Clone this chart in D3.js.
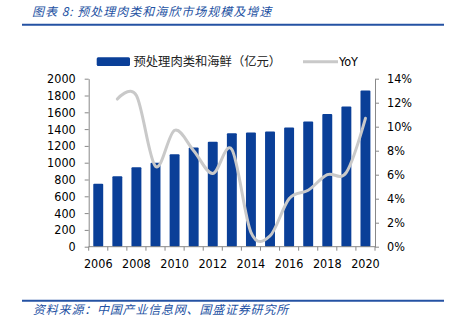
<!DOCTYPE html>
<html><head><meta charset="utf-8">
<script src="https://cdn.jsdelivr.net/npm/d3@7"></script>
<style>
body{margin:0;background:#fff;}
svg{display:block;}
.num{font-family:"DejaVu Sans Condensed","DejaVu Sans",sans-serif;font-size:12.5px;fill:#000;}
</style></head>
<body><svg id="c" width="455" height="325"></svg>
<script>
const years = [2006,2007,2008,2009,2010,2011,2012,2013,2014,2015,2016,2017,2018,2019,2020];
const marketSize = [750,840,945,1000,1100,1180,1250,1350,1360,1370,1420,1490,1580,1670,1860];
const yoyYears = [2007,2008,2009,2010,2011,2012,2013,2014,2015,2016,2017,2018,2019,2020];
const yoy = [12.3,12.6,6.7,9.7,8.0,6.1,8.1,1.2,0.9,4.0,4.7,6.0,6.2,10.7];
const leftTicks = [0,200,400,600,800,1000,1200,1400,1600,1800,2000];
const rightTicks = [0,2,4,6,8,10,12,14];
const xLabels = [2006,2008,2010,2012,2014,2016,2018,2020];
const title = "图表 8:  预处理肉类和海欣市场规模及增速";
const source = "资料来源：中国产业信息网、国盛证券研究所";
const barName = "预处理肉类和海鲜（亿元）";
const lineName = "YoY";

const svg = d3.select("#c");
const L = 88.7, R = 375, T = 78.7, B = 246.7;
const blue = "#0a3f98", navy = "#2452a3";

const x = d3.scaleBand().domain(years).range([L, R]).paddingInner(0.48).paddingOuter(0.24);
const xb = d3.scaleBand().domain(years).range([L, R]);
const yL = d3.scaleLinear().domain([0, 2000]).range([B, T]);
const yR = d3.scaleLinear().domain([0, 14]).range([B, T]);

// header & footer
svg.append("text").attr("x", 32).attr("y", 16).text(title)
  .style("font-family", "'Noto Sans CJK SC',sans-serif").style("font-style", "italic")
  .style("font-size", "12px").style("letter-spacing", "1px").attr("fill", navy);
svg.append("line").attr("x1", 22).attr("x2", 444).attr("y1", 24.7).attr("y2", 24.7)
  .attr("stroke", navy).attr("stroke-width", 2);
svg.append("line").attr("x1", 22).attr("x2", 444).attr("y1", 300.7).attr("y2", 300.7)
  .attr("stroke", navy).attr("stroke-width", 2);
svg.append("text").attr("x", 33).attr("y", 314).text(source)
  .style("font-family", "'Noto Sans CJK SC',sans-serif").style("font-style", "italic")
  .style("font-size", "12px").style("letter-spacing", "0.8px").attr("fill", navy);

// bars
svg.append("g").selectAll("rect").data(years).join("rect")
  .attr("x", d => x(d)).attr("width", x.bandwidth())
  .attr("y", (d, i) => yL(marketSize[i])).attr("height", (d, i) => B - yL(marketSize[i]))
  .attr("fill", blue).attr("rx", 1);

// axes
const gl = svg.append("g").attr("transform", `translate(${L},0)`)
  .call(d3.axisLeft(yL).tickValues(leftTicks).tickSize(4).tickPadding(9).tickSizeOuter(0).tickFormat(d3.format("d")));
const gr = svg.append("g").attr("transform", `translate(${R},0)`)
  .call(d3.axisRight(yR).tickValues(rightTicks).tickSize(4).tickPadding(8).tickSizeOuter(0).tickFormat(d => d + "%"));
[gl, gr].forEach(g => {
  g.selectAll("path,line").attr("stroke", "#888");
  g.selectAll("text").attr("class", "num").attr("fill", "#000");
});
// x axis line and ticks at band boundaries
svg.append("line").attr("x1", L).attr("x2", R).attr("y1", B).attr("y2", B).attr("stroke", "#888");
svg.append("g").selectAll("line").data(years.concat([null])).join("line")
  .attr("x1", (d, i) => L + i * xb.step()).attr("x2", (d, i) => L + i * xb.step())
  .attr("y1", B).attr("y2", B + 4).attr("stroke", "#888");
svg.append("g").selectAll("text").data(xLabels).join("text")
  .attr("class", "num").attr("text-anchor", "middle")
  .attr("x", d => x(d) + x.bandwidth() / 2).attr("y", 268).text(d => d);

// line
const line = d3.line().curve(d3.curveCatmullRom.alpha(0))
  .x((d, i) => x(yoyYears[i]) + x.bandwidth() / 2).y(d => yR(d));
svg.append("path").attr("d", line(yoy)).attr("fill", "none")
  .attr("stroke", "#c9c9c9").attr("stroke-width", 3).attr("stroke-linecap", "round");

// legend
svg.append("rect").attr("x", 96.7).attr("y", 57.3).attr("width", 33.3).attr("height", 8.7).attr("rx", 1.5).attr("fill", blue);
svg.append("text").attr("x", 133.5).attr("y", 66).text(barName)
  .style("font-family", "'Noto Sans CJK SC',sans-serif").style("font-size", "12.3px").attr("fill", "#222");
svg.append("line").attr("x1", 303).attr("x2", 338).attr("y1", 61.7).attr("y2", 61.7)
  .attr("stroke", "#c9c9c9").attr("stroke-width", 3);
svg.append("text").attr("x", 339).attr("y", 66.3).text(lineName).attr("class", "num");
</script></body></html>
